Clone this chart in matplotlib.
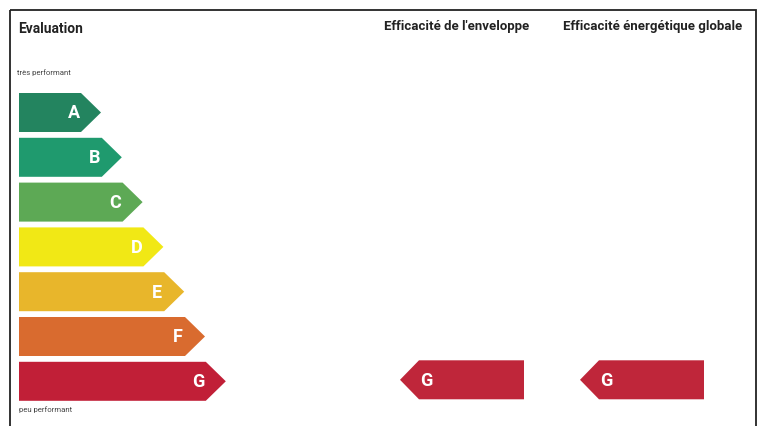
import matplotlib.pyplot as plt
from matplotlib.patches import Polygon, Rectangle

classes = ['A', 'B', 'C', 'D', 'E', 'F', 'G']
colors = ['#23845f', '#1f9a6e', '#5da955', '#f1e815', '#e8b62b', '#d96b2f', '#c11f37']
columns = ["Efficacité de l'enveloppe", 'Efficacité énergétique globale']
ratings = ['G', 'G']
rating_color = '#bf263a'

W, H = 759, 426
fig = plt.figure(figsize=(W / 100, H / 100), dpi=100)
ax = fig.add_axes([0, 0, 1, 1])
ax.set_xlim(0, W)
ax.set_ylim(H, 0)
ax.axis('off')

font = ['Roboto', 'Liberation Sans', 'DejaVu Sans']

# frame
ax.add_patch(Rectangle((9.5, 10), 746, 420, fill=False, ec='#222222', lw=1.3))

ax.text(18, 29, 'Evaluation', fontsize=9.9, fontweight='bold', family=font,
        color='#222222', va='center')
ax.text(17, 73, 'très performant', fontsize=5.6, family=font, color='#444444', va='center')
ax.text(19, 410, 'peu performant', fontsize=5.6, family=font, color='#444444', va='center')

# scale arrows
x0, h, tip = 19, 39, 20
for i, (c, col) in enumerate(zip(classes, colors)):
    y = 93 + i * 44.8
    x1 = 81 + i * 20.8
    pts = [(x0, y), (x1, y), (x1 + tip, y + h / 2), (x1, y + h), (x0, y + h)]
    ax.add_patch(Polygon(pts, closed=True, fc=col, ec='none'))
    ax.text(x1 - 7, y + h / 2 + 1, c, color='white', fontsize=13, fontweight='bold',
            family=font, ha='center', va='center')

# rating columns
col_x = [457, 653]
arrow_left = [400, 580]
for cx, ax_l, title, r in zip(col_x, arrow_left, columns, ratings):
    ax.text(cx, 26.5, title, fontsize=9.5, fontweight='bold', family=font,
            color='#222222', ha='center', va='center')
    idx = classes.index(r)
    y = 93 + idx * 44.8 - 1.5
    pts = [(ax_l, y + h / 2), (ax_l + 19, y), (ax_l + 124, y), (ax_l + 124, y + h),
           (ax_l + 19, y + h)]
    ax.add_patch(Polygon(pts, closed=True, fc=rating_color, ec='none'))
    ax.text(ax_l + 26, y + h / 2 + 1, r, color='white', fontsize=13, fontweight='bold',
            family=font, ha='center', va='center')

fig.savefig('out.png', dpi=100)
